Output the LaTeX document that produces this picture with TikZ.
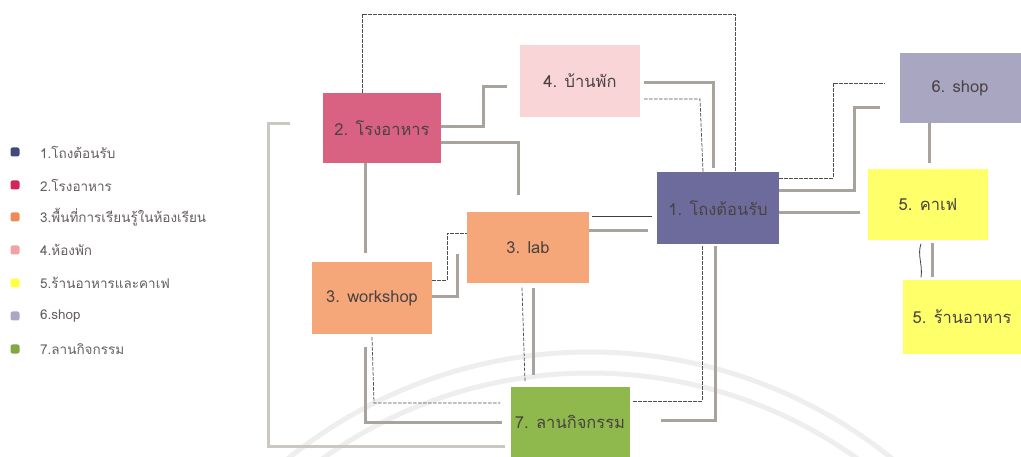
\documentclass[tikz,border=0pt]{standalone}
\usepackage{fontspec}
\setmainfont{Loma}[Script=Thai]
\usetikzlibrary{calc}
\definecolor{cLobby}{HTML}{6C6B9B}
\definecolor{cCant}{HTML}{D96282}
\definecolor{cHome}{HTML}{FAD5D7}
\definecolor{cShop}{HTML}{A9A6C2}
\definecolor{cYel}{HTML}{FFFF6A}
\definecolor{cOra}{HTML}{F5A77A}
\definecolor{cGrn}{HTML}{8FB94C}
\definecolor{cLine}{HTML}{A9A39E}
\definecolor{cLineL}{HTML}{CBC7C3}
\definecolor{cDash}{HTML}{4F4F4F}
\definecolor{cTxt}{HTML}{4A4242}
\definecolor{lgBlue}{HTML}{3E4C7C}
\definecolor{lgRed}{HTML}{D2255A}
\definecolor{lgOra}{HTML}{EE8A55}
\definecolor{lgPink}{HTML}{EFA3A3}
\definecolor{lgYel}{HTML}{FFFF44}
\definecolor{lgLav}{HTML}{ABA8C6}
\definecolor{lgGrn}{HTML}{82A844}
\tikzset{
  box/.style={rectangle, inner sep=0pt, text=cTxt, font=\fontsize{16.5}{19}\selectfont},
  gl/.style={draw=cLine, line width=3pt},
  gll/.style={draw=cLineL, line width=3pt},
  dl/.style={draw=cDash, line width=0.75pt, dash pattern=on 3.5pt off 1.5pt},
  sl/.style={draw=cDash!80!black, line width=0.8pt},
  lgsq/.style={rectangle, rounded corners=2pt, minimum size=9pt, inner sep=0pt},
  lgtx/.style={anchor=west, inner sep=0pt, text=cTxt!85, font=\fontsize{13.5}{16}\selectfont},
}
\begin{document}
\begin{tikzpicture}[x=1pt,y=-1pt]
\useasboundingbox (0,0) rectangle (1021,457);
% watermark arcs
\begin{scope}
\clip (0,0) rectangle (1021,457);
\draw[gray!13, line width=5pt] (590,833) circle (481);
\draw[gray!13, line width=5pt] (590,833) circle (460);
\end{scope}
% legend
\node[lgsq, fill=lgBlue] (s1) at (15,152) {};
\node[lgsq, fill=lgRed]  (s2) at (15,185) {};
\node[lgsq, fill=lgOra]  (s3) at (15,217) {};
\node[lgsq, fill=lgPink] (s4) at (15,250) {};
\node[lgsq, fill=lgYel]  (s5) at (15,283) {};
\node[lgsq, fill=lgLav]  (s6) at (15,316) {};
\node[lgsq, fill=lgGrn]  (s7) at (15,349) {};
\node[lgtx] (t1) at (40,152) {1.โถงต้อนรับ};
\node[lgtx] (t2) at (40,185) {2.โรงอาหาร};
\node[lgtx] (t3) at (40,217) {3.พื้นที่การเรียนรู้ในห้องเรียน};
\node[lgtx] (t4) at (40,250) {4.ห้องพัก};
\node[lgtx] (t5) at (40,283) {5.ร้านอาหารและคาเฟ};
\node[lgtx] (t6) at (40,316) {6.shop};
\node[lgtx] (t7) at (40,349) {7.ลานกิจกรรม};
% nodes
\node[box, fill=cCant, minimum width=118pt, minimum height=70pt] (n2) at (382,128) {2. โรงอาหาร};
\node[box, fill=cHome, minimum width=120pt, minimum height=72pt] (n4) at (580,81) {4. บ้านพัก};
\node[box, fill=cLobby, minimum width=122pt, minimum height=72pt] (n1) at (718,208) {1. โถงต้อนรับ};
\node[box, fill=cShop, minimum width=121pt, minimum height=70pt] (n6) at (960,88) {6. shop};
\node[box, fill=cYel, minimum width=120pt, minimum height=71pt] (n5c) at (928,205) {5. คาเฟ};
\node[box, fill=cYel, minimum width=118pt, minimum height=73pt] (n5r) at (962,317) {5. ร้านอาหาร};
\node[box, fill=cOra, minimum width=122pt, minimum height=71pt] (lab) at (528,248) {3. lab};
\node[box, fill=cOra, minimum width=120pt, minimum height=72pt] (ws) at (372,298) {3. workshop};
\node[box, fill=cGrn, minimum width=119pt, minimum height=86pt] (n7) at (570,430) {};
\node[box, anchor=center] (n7t) at (570,422) {7. ลานกิจกรรม};
% connectors
\draw[dl] (n2.north -| 362,0) -- (362,14) -- (735,14) -- (n1.north -| 735,0);
\draw[gl] (n2.east |- 0,127) -- (483,127) -- (483,87) -- ($(n4.west |- 0,87)+(-13,0)$);
\draw[gl] (n2.east |- 0,143) -- (518,143) -- ($(lab.north -| 518,0)+(0,-17)$);
\draw[gl] ($(n4.east |- 0,83)+(4,0)$) -- (713,83) -- ($(n1.north -| 713,0)+(0,-4)$);
\draw[dl] ($(n4.east |- 0,99)+(4,0)$) -- (700,99) -- (n1.north -| 703,0);
\draw[gl] (n2.south -| 365,0) -- ($(ws.north -| 365,0)+(0,-9)$);
\coordinate (lt) at (290,124);
\draw[gll] (lt) -- (268,124) -- (268,446) -- ($(n7.west |- 0,446)+(-5,0)$);
\draw[dl] (ws.east |- 0,280) -- (447,280) -- (447,233) -- (lab.west |- 0,233);
\draw[gl] (ws.east |- 0,297) -- (457,297) -- ($(lab.south -| 457,0)+(0,-30)$);
\draw[sl] ($(lab.east |- 0,216)+(3,0)$) -- ($(n1.west |- 0,216)+(-5,0)$);
\draw[gl] (lab.east |- 0,231) -- ($(n1.west |- 0,231)+(-9,0)$);
\draw[dl] ($(lab.south -| 522,0)+(0,4)$) -- ($(n7.north -| 525,0)+(0,-5)$);
\draw[gl] ($(lab.south -| 533,0)+(0,4)$) -- ($(n7.north -| 533,0)+(0,-12)$);
\draw[dl] ($(ws.south -| 372,0)+(0,3)$) -- (374,403) -- ($(n7.west |- 0,403)+(-10,0)$);
\draw[gl] ($(ws.south -| 365,0)+(0,13)$) -- (365,422) -- ($(n7.west |- 0,422)+(-8,0)$);
\draw[dl] ($(n1.south -| 702,0)+(0,2)$) -- (702,401) -- ($(n7.east |- 0,401)+(3,0)$);
\draw[gl] ($(n1.south -| 715,0)+(0,2)$) -- (715,420) -- ($(n7.east |- 0,420)+(31,0)$);
\draw[dl] (n1.east |- 0,178) -- (833,178) -- (833,83) -- ($(n6.west |- 0,83)+(-14,0)$);
\draw[gl] (n1.east |- 0,191) -- (854,191) -- (854,108) -- ($(n6.west |- 0,108)+(-19,0)$);
\draw[gl] (n1.east |- 0,213) -- ($(n5c.west |- 0,213)+(-8,0)$);
\draw[gl] (n6.south -| 929,0) -- ($(n5c.north -| 929,0)+(0,-6)$);
\draw[gl] ($(n5c.south -| 932,0)+(0,2)$) -- ($(n5r.north -| 932,0)+(0,-3)$);
\draw[sl] ($(n5c.south -| 921,0)+(0,3)$) .. controls (917,255) and (923,265) .. ($(n5r.north -| 921,0)+(0,-3)$);
\end{tikzpicture}
\end{document}
